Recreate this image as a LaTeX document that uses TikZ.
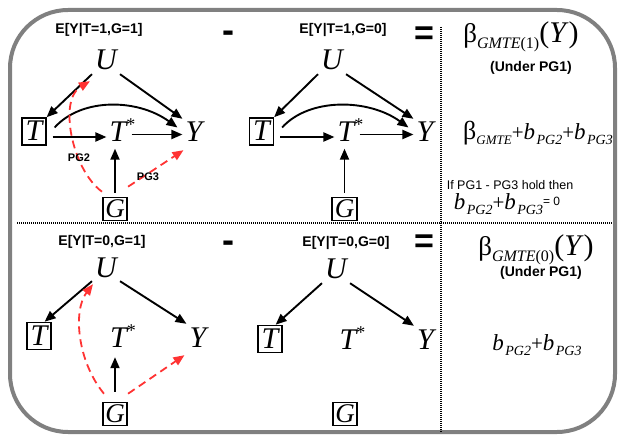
\documentclass[tikz,border=0pt]{standalone}
\usepackage{fontspec}
\setmainfont{Liberation Sans}
\newfontfamily\tms{Liberation Serif}
\usetikzlibrary{arrows.meta,calc}
\newcommand\Lsz[1]{\fontsize{#1}{#1}\selectfont}
\newcommand\sstar{\raisebox{11pt}{\Lsz{18}\upshape *}}
\newcommand\bsub[1]{{\Lsz{23}\textit{b}}\kern1.5pt\raisebox{-5pt}{\Lsz{14}\itshape #1}}
\newcommand\pls{{\Lsz{21}+}}
\definecolor{pgred}{RGB}{255,51,51}
\definecolor{frame}{RGB}{128,128,128}
\tikzset{
  lett/.style={font=\tms\itshape\Lsz{30}, text height=20pt, text depth=1pt, inner sep=3pt},
  boxT/.style={lett, draw, line width=1.6pt, inner xsep=3.5pt, inner ysep=3pt},
  boxG/.style={font=\tms\itshape\Lsz{27}, text height=18pt, text depth=1pt, draw, line width=1.6pt, inner xsep=2.5pt, inner ysep=2pt},
  arr/.style={line width=1.9pt, -{Triangle[length=11pt,width=9pt]}},
  rarr/.style={line width=1.8pt, draw=pgred, dash pattern=on 8pt off 5pt, -{Triangle[length=11pt,width=9pt]}, fill=none},
  ttl/.style={font=\bfseries\Lsz{14}, inner sep=0pt},
  ttlb/.style={font=\bfseries\Lsz{14}, inner sep=0pt},
  lbl/.style={font=\bfseries\Lsz{11}, inner sep=0pt},
  minusop/.style={font=\bfseries\Lsz{36}, inner sep=0pt, text height=18.8pt, text depth=0pt},
  eqop/.style={font=\bfseries\Lsz{34}, inner sep=0pt, text height=22.4pt, text depth=0pt},
  expr/.style={anchor=base, inner sep=0pt},
  dotline/.style={line width=1.6pt, dash pattern=on 1pt off 1pt},
}
\begin{document}
\begin{tikzpicture}[x=1pt,y=-1pt]
\useasboundingbox (0,0) rectangle (620,435);
% frame
\draw[line width=4pt, draw=frame, rounded corners=58pt] (10,10) rectangle (615,432);
% dotted separators
\draw[dotline] (17,223) -- (612,223);
\draw[dotline] (441,27) -- (441,432);

% titles and operators
\node[ttl] (tA) at (99,30) {E[Y|T=1,G=1]};
\node[ttl] (tB) at (343,30) {E[Y|T=1,G=0]};
\node[ttl] (tC) at (102,242) {E[Y|T=0,G=1]};
\node[ttl] (tD) at (346,243) {E[Y|T=0,G=0]};
\node[minusop] (m1) at (228,33) {-};
\node[minusop] (m2) at (228,243) {-};
\node[eqop] (q1) at (424,33) {=};
\node[eqop] (q2) at (424,241) {=};

% ---------- panel A ----------
\node[lett] (UA) at (106,60.5) {U};
\node[boxT] (TA) at (34,131.5) {T};
\node[lett] (TsA) at (122.5,132.5) {T\sstar};
\node[lett] (YA) at (194,132.5) {Y};
\node[boxG] (GA) at (115,209) {G};
\draw[arr] (UA.south west) -- (TA.north east);
\draw[arr] (UA.south east) -- (YA.north west);
\draw[arr] ([xshift=8pt,yshift=4pt]TA.east) .. controls +(27,-30) and +(-40,-29) .. ([xshift=-5pt,yshift=5pt]YA.west);
\draw[arr] ([xshift=6pt,yshift=-5.5pt]TA.east) -- ([yshift=-4.5pt]TsA.west);
\draw[arr] ([xshift=-7pt,yshift=-2pt]TsA.east) -- ([yshift=-2pt]YA.west);
\draw[arr, shorten >=2.5pt] ([yshift=4pt]GA.north) -- (GA.north |- TsA.south);
\draw[rarr] ([yshift=5pt]GA.north west) .. controls +(-30,-22) and +(-32,18.5) .. ([xshift=-2pt,yshift=-7pt]UA.south west);
\draw[rarr] ([yshift=10pt]GA.north east) -- ([xshift=1pt,yshift=-4pt]YA.south west);
\node[lbl] (pg2) at (79,158) {PG2};
\node[lbl] (pg3) at (148,177) {PG3};

% ---------- panel B ----------
\node[lett] (UB) at (332,60.5) {U};
\node[boxT] (TB) at (261.5,131.5) {T};
\node[lett] (TsB) at (350.5,132.5) {T\sstar};
\node[lett] (YB) at (425,132.5) {Y};
\node[boxG] (GB) at (344.5,209) {G};
\draw[arr] (UB.south west) -- (TB.north east);
\draw[arr] (UB.south east) -- (YB.north west);
\draw[arr] ([xshift=8pt,yshift=4pt]TB.east) .. controls +(27,-30) and +(-40,-29) .. ([xshift=-5pt,yshift=5pt]YB.west);
\draw[arr] ([xshift=6pt,yshift=-5.5pt]TB.east) -- ([yshift=-4.5pt]TsB.west);
\draw[arr] ([xshift=-7pt,yshift=-2pt]TsB.east) -- ([yshift=-2pt]YB.west);
\draw[arr, shorten >=2.5pt] ([yshift=4pt]GB.north) -- (GB.north |- TsB.south);

% ---------- panel C ----------
\node[lett] (UC) at (106,267.5) {U};
\node[boxT] (TC) at (39,336) {T};
\node[lett] (TsC) at (123,337.5) {T\sstar};
\node[lett] (YC) at (198,337.5) {Y};
\node[boxG] (GC) at (115,414) {G};
\draw[arr] (UC.south west) -- ([xshift=-7pt]TC.north east);
\draw[arr] (UC.south east) -- (YC.north west);
\draw[arr, shorten >=6pt] ([yshift=10pt]GC.north) -- (GC.north |- TsC.south);
\draw[rarr] ([xshift=2pt,yshift=8pt]GC.north west) .. controls +(-27,-33) and +(-20,26) .. ([xshift=1pt,yshift=-3pt]UC.south west);
\draw[rarr] ([yshift=8pt]GC.north east) -- ([xshift=-2pt,yshift=-4pt]YC.south west);

% ---------- panel D ----------
\node[lett] (UD) at (336,269.5) {U};
\node[boxT] (TD) at (270,339) {T};
\node[lett] (TsD) at (352.5,339.5) {T\sstar};
\node[lett] (YD) at (425.5,339.5) {Y};
\node[boxG] (GD) at (345,414) {G};
\draw[arr] (UD.south west) -- ([xshift=-7pt]TD.north east);
\draw[arr] (UD.south east) -- (YD.north west);

% ---------- right column ----------
\node[expr] (e1) at (521,43) {\tms\Lsz{27}β\raisebox{-6pt}{\Lsz{16}\itshape GMTE\upshape(1)}\Lsz{30}(\textit{Y})};
\node[ttlb] (u1) at (531,68) {(Under PG1)};
\node[expr] (e2) at (538,140) {\tms\Lsz{26}β\raisebox{-5pt}{\Lsz{13}\itshape GMTE}\pls\bsub{PG2}\pls\bsub{PG3}};
\node[font=\Lsz{12.5}, inner sep=0pt] (iftxt) at (510,185) {If PG1 - PG3 hold then};
\node[expr] (e3) at (507,210) {{\tms\bsub{PG2}\pls\bsub{PG3}}\raisebox{4pt}{\Lsz{12}= 0}};
\node[expr] (e4) at (536,255) {\tms\Lsz{27}β\raisebox{-6pt}{\Lsz{16}\itshape GMTE\upshape(0)}\Lsz{30}(\textit{Y})};
\node[ttlb] (u2) at (541,273) {(Under PG1)};
\node[expr] (e5) at (537,350) {\tms\bsub{PG2}\pls\bsub{PG3}};
\end{tikzpicture}
\end{document}
